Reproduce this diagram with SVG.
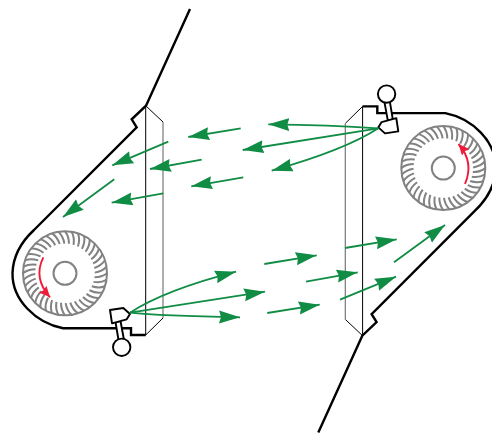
<svg xmlns="http://www.w3.org/2000/svg" xmlns:xlink="http://www.w3.org/1999/xlink" width="492" height="433" viewBox="0 0 492 433">
<style>
.hull{fill:none;stroke:#000;stroke-width:2.4;stroke-linejoin:miter}
.thin{fill:none;stroke:#000;stroke-width:1}
.thing{fill:none;stroke:#777;stroke-width:1.2}
.ring{fill:none;stroke:#828282;stroke-width:2}
.blade{fill:none;stroke:#828282;stroke-width:2}
.act{fill:#fff;stroke:#000;stroke-width:1.9;stroke-linejoin:round}
.flow{fill:none;stroke:#108c45;stroke-width:1.8;marker-end:url(#ah)}
.rot{fill:none;stroke:#ee1c3a;stroke-width:1.9;marker-end:url(#rh)}
</style>
<defs>
<marker id="ah" markerUnits="userSpaceOnUse" markerWidth="24" markerHeight="16" refX="21" refY="8" orient="auto"><path d="M0 1.500L21 8L0 14.500L2 8Z" fill="#108c45"/></marker>
<marker id="rh" markerUnits="userSpaceOnUse" markerWidth="14" markerHeight="12" refX="11" refY="5" orient="auto"><path d="M0 0L11 5L0 10L1.5 5Z" fill="#ee1c3a"/></marker>
<path id="b" class="blade" d="M0-42Q4-37 4-29.500"/>
<g id="fan">
<circle class="ring" r="42"/><circle class="ring" r="11.5"/>
<use href="#b"/><use href="#b" transform="rotate(9)"/><use href="#b" transform="rotate(18)"/><use href="#b" transform="rotate(27)"/><use href="#b" transform="rotate(36)"/><use href="#b" transform="rotate(45)"/><use href="#b" transform="rotate(54)"/><use href="#b" transform="rotate(63)"/><use href="#b" transform="rotate(72)"/><use href="#b" transform="rotate(81)"/>
<use href="#b" transform="rotate(90)"/><use href="#b" transform="rotate(99)"/><use href="#b" transform="rotate(108)"/><use href="#b" transform="rotate(117)"/><use href="#b" transform="rotate(126)"/><use href="#b" transform="rotate(135)"/><use href="#b" transform="rotate(144)"/><use href="#b" transform="rotate(153)"/><use href="#b" transform="rotate(162)"/><use href="#b" transform="rotate(171)"/>
<use href="#b" transform="rotate(180)"/><use href="#b" transform="rotate(189)"/><use href="#b" transform="rotate(198)"/><use href="#b" transform="rotate(207)"/><use href="#b" transform="rotate(216)"/><use href="#b" transform="rotate(225)"/><use href="#b" transform="rotate(234)"/><use href="#b" transform="rotate(243)"/><use href="#b" transform="rotate(252)"/><use href="#b" transform="rotate(261)"/>
<use href="#b" transform="rotate(270)"/><use href="#b" transform="rotate(279)"/><use href="#b" transform="rotate(288)"/><use href="#b" transform="rotate(297)"/><use href="#b" transform="rotate(306)"/><use href="#b" transform="rotate(315)"/><use href="#b" transform="rotate(324)"/><use href="#b" transform="rotate(333)"/><use href="#b" transform="rotate(342)"/><use href="#b" transform="rotate(351)"/>
</g>
<g id="half">
<path class="hull" d="M190 9L146 105.7L131.7 119.3L136.7 127.3L34 230C20 243 13 258 12.500 273C12 300 36 323 63 328.300H131V335H145.700"/>
<path class="thin" d="M145.700 105.700V335L163 318"/>
<path class="thin" d="M145.700 105.700L163 122"/>
<path class="thing" d="M163 122V318"/>
</g>
<g id="actuator">
<path class="act" d="M115.500 322L118.500 340H124L120.500 321Z"/>
<circle class="act" cx="121.700" cy="347.300" r="8.700"/>
<path class="act" d="M110 310L123.300 308L130 314L126.700 319.300L112 323.300Z"/>
</g>
</defs>
<g id="hull-left"><use href="#half"/></g>
<g id="hull-right"><use href="#half" transform="rotate(180 254.150 220.700)"/></g>
<g id="fan-left"><use href="#fan" transform="translate(65 273.300)"/></g>
<g id="fan-right"><use href="#fan" transform="translate(443.300 168.100)"/></g>
<g id="actuator-left"><use href="#actuator"/></g>
<g id="actuator-right"><use href="#actuator" transform="rotate(180 254.150 220.700)"/></g>
<g id="connectors">
<path class="rot" d="M43.300 257.300C36 272 40 286 50 297.300"/>
<path class="rot" d="M465 184C471 170 469 156 458.500 144"/>
<path class="flow" d="M378.300 128.300Q330 125 268.300 124.300"/>
<path class="flow" d="M378.300 128.300L242.700 150"/>
<path class="flow" d="M378.300 128.300Q345 150 271.700 170.700"/>
<path class="flow" d="M240.700 128.300L188.300 137"/>
<path class="flow" d="M168.300 141.700L112.300 165.300"/>
<path class="flow" d="M201.700 159.700L150 169"/>
<path class="flow" d="M243.300 177.300L191.300 186.300"/>
<path class="flow" d="M163.300 193.300L111.700 202.700"/>
<path class="flow" d="M114.300 179.300L63 217"/>
<path class="flow" d="M130 312.700Q165 290 236 271.700"/>
<path class="flow" d="M130 312.700L265 291.700"/>
<path class="flow" d="M130 312.700Q160 316 240 317.300"/>
<path class="flow" d="M264.300 264L316.700 255.300"/>
<path class="flow" d="M306 281.700L357.700 272.300"/>
<path class="flow" d="M267.300 313L319.700 304.700"/>
<path class="flow" d="M345 248L396.700 239.300"/>
<path class="flow" d="M340 299.700L396 276.700"/>
<path class="flow" d="M394 262.300L445 225"/>
</g>
</svg>
